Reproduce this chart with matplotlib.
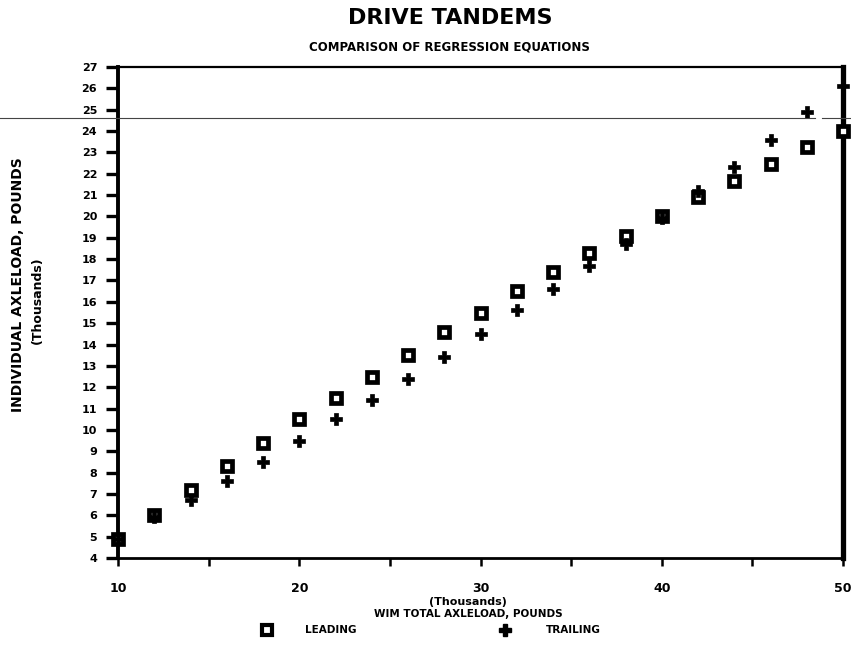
import numpy as np
import matplotlib
matplotlib.use("Agg")
import matplotlib.pyplot as plt
from matplotlib.lines import Line2D

# ---- data: predicted axle loads (thousands of lbs) vs WIM total axleload ----
total_load = [10, 12, 14, 16, 18, 20, 22, 24, 26, 28, 30,
              32, 34, 36, 38, 40, 42, 44, 46, 48, 50]
leading = [4.9, 6.0, 7.2, 8.3, 9.4, 10.5, 11.5, 12.5, 13.5, 14.6, 15.5,
           16.5, 17.4, 18.3, 19.1, 20.0, 20.9, 21.65, 22.45, 23.25, 24.0]
trailing = [4.9, 5.9, 6.7, 7.6, 8.5, 9.5, 10.5, 11.4, 12.4, 13.4, 14.5,
            15.6, 16.6, 17.7, 18.7, 19.95, 21.2, 22.3, 23.6, 24.9, 26.1]

x_major = [10, 20, 30, 40, 50]
x_minor = [15, 25, 35, 45]
y_ticks = list(range(4, 28))

plt.rcParams["font.family"] = ["DejaVu Sans"]

fig = plt.figure(figsize=(8.51, 6.45), dpi=100)
ax = fig.add_axes([0.1387, 0.1349, 0.8519, 0.7612])

# leading axle: open squares, trailing axle: filled plus
ax.plot(total_load, leading, linestyle="none", marker="s", markersize=7.5,
        markerfacecolor="white", markeredgecolor="black", markeredgewidth=3.4,
        clip_on=False, zorder=3)
ax.plot(total_load, trailing, linestyle="none", marker="P", markersize=8,
        markerfacecolor="black", markeredgecolor="black", markeredgewidth=0.5,
        clip_on=False, zorder=4)

ax.set_xlim(10, 50)
ax.set_ylim(4, 27)
ax.set_xticks(x_major)
ax.set_xticks(x_minor, minor=True)
ax.set_yticks(y_ticks)
ax.set_xticklabels([str(v) for v in x_major], fontsize=9, fontweight="heavy")
ax.set_yticklabels([str(v) for v in y_ticks], fontsize=8, fontweight="heavy")
ax.tick_params(axis="y", direction="out", length=9, width=2.4, pad=6)
ax.tick_params(axis="x", which="both", direction="out", length=6, width=1.8, pad=11)

ax.spines["left"].set_linewidth(2.8)
ax.spines["right"].set_linewidth(3.8)
ax.spines["bottom"].set_linewidth(2.0)
ax.spines["top"].set_linewidth(1.6)
ax.spines["top"].set_linestyle((0, (6, 1)))

# titles
fig.text(0.529, 0.972, "DRIVE TANDEMS", ha="center", va="center",
         fontsize=16, fontweight="bold")
fig.text(0.528, 0.927, "COMPARISON OF REGRESSION EQUATIONS", ha="center",
         va="center", fontsize=8.5, fontweight="heavy")

# y-axis label
fig.text(0.021, 0.558, "INDIVIDUAL AXLELOAD, POUNDS", rotation=90,
         ha="center", va="center", fontsize=10, fontweight="heavy")
fig.text(0.044, 0.535, "(Thousands)", rotation=90, ha="center", va="center",
         fontsize=9, fontweight="heavy")

# x-axis label
fig.text(0.55, 0.067, "(Thousands)", ha="center", va="center",
         fontsize=8, fontweight="heavy")
fig.text(0.55, 0.048, "WIM TOTAL AXLELOAD, POUNDS", ha="center", va="center",
         fontsize=7.5, fontweight="heavy")

# legend row below the axis title
fig.add_artist(Line2D([0.314], [0.023], marker="s", markersize=7,
                      markerfacecolor="white", markeredgecolor="black",
                      markeredgewidth=3, transform=fig.transFigure))
fig.text(0.358, 0.023, "LEADING", ha="left", va="center",
         fontsize=7.5, fontweight="heavy")
fig.add_artist(Line2D([0.593], [0.023], marker="P", markersize=8,
                      color="black", transform=fig.transFigure))
fig.text(0.642, 0.023, "TRAILING", ha="left", va="center",
         fontsize=7.5, fontweight="heavy")

# thin rule running across the sheet
fig.add_artist(Line2D([0.0, 0.958], [0.817, 0.817], color="#444444",
                      linewidth=0.8, transform=fig.transFigure))
fig.add_artist(Line2D([0.966, 1.0], [0.817, 0.817], color="#444444",
                      linewidth=0.8, transform=fig.transFigure))

fig.savefig("out.png", dpi=100, facecolor="white")
